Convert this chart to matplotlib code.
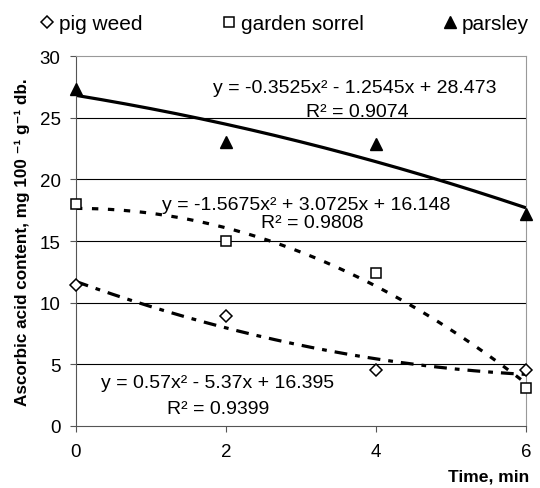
import numpy as np
import matplotlib
matplotlib.use("Agg")
import matplotlib.pyplot as plt

plt.rcParams['font.family'] = ['Liberation Sans', 'DejaVu Sans']

time = [0, 2, 4, 6]
pig_weed = [11.4, 8.9, 4.5, 4.5]
garden_sorrel = [18.0, 15.0, 12.4, 3.1]
parsley = [27.3, 23.0, 22.9, 17.2]
xticks = [0, 2, 4, 6]
yticks = [0, 5, 10, 15, 20, 25, 30]

eq_parsley = "y = -0.3525x² - 1.2545x + 28.473"
r2_parsley = "R² = 0.9074"
eq_sorrel = "y = -1.5675x² + 3.0725x + 16.148"
r2_sorrel = "R² = 0.9808"
eq_pig = "y = 0.57x² - 5.37x + 16.395"
r2_pig = "R² = 0.9399"

fig = plt.figure(figsize=(5.4, 4.89), dpi=100)
ax = fig.add_axes([0.1407, 0.1268, 0.8334, 0.7566])

tt = np.linspace(0, 6, 200)
def trend(y):
    idx = np.arange(1, len(y) + 1)
    c = np.polyfit(idx, y, 2)
    return np.polyval(c, tt / 2 + 1)

ax.plot(tt, trend(parsley), color='black', lw=2.3, solid_capstyle='butt')
ax.plot(tt, trend(garden_sorrel), color='black', lw=2.3, dashes=(2, 3))
ax.plot(tt, trend(pig_weed), color='black', lw=2.3, dashes=(4, 2.5, 1.5, 2.5))

ax.plot(time, pig_weed, linestyle='none', marker='D', ms=6.5, mfc='white', mec='black', mew=1.1, label='pig weed', clip_on=False, zorder=5)
ax.plot(time, garden_sorrel, linestyle='none', marker='s', ms=7.5, mfc='white', mec='black', mew=1.1, label='garden sorrel', clip_on=False, zorder=5)
ax.plot(time, parsley, linestyle='none', marker='^', ms=8.5, mfc='black', mec='black', label='parsley', clip_on=False, zorder=5)

ax.set_xlim(0, 6)
ax.set_ylim(0, 30)
ax.set_xticks(xticks)
ax.set_yticks(yticks)
for y in yticks[1:-1]:
    ax.axhline(y, color='black', lw=0.8, zorder=1)
ax.tick_params(labelsize=13.5, direction='out', length=4, width=0.8, color='#555555')
ax.tick_params(axis='x', pad=8)
ax.tick_params(axis='y', pad=7)
for s in ['top', 'right']:
    ax.spines[s].set_color('#999999')
for s in ['left', 'bottom']:
    ax.spines[s].set_color('#555555')

ax.set_ylabel("Ascorbic acid content, mg 100 ⁻¹ g⁻¹ db.", fontsize=12.3, fontweight='bold', labelpad=7)
fig.text(0.98, 0.01, "Time, min", fontsize=12.6, fontweight='bold', ha='right', va='bottom')

def px(x, y):
    return (x - 76) / 450 * 6, (427 - y) / 370 * 30

for txt, (x, y) in [(eq_parsley, (355, 88)), (r2_parsley, (357, 112)),
                    (eq_sorrel, (306, 205)), (r2_sorrel, (312, 223)),
                    (eq_pig, (218, 384)), (r2_pig, (218, 410))]:
    X, Y = px(x, y)
    ax.text(X, Y, txt, fontsize=14, ha='center', va='center', zorder=6)

fig.legend(loc='center', bbox_to_anchor=(0.526, 0.949), ncol=3, frameon=False,
           fontsize=15, handlelength=0.8, handletextpad=0.16, columnspacing=3.75)

fig.savefig("out.png", dpi=100)
